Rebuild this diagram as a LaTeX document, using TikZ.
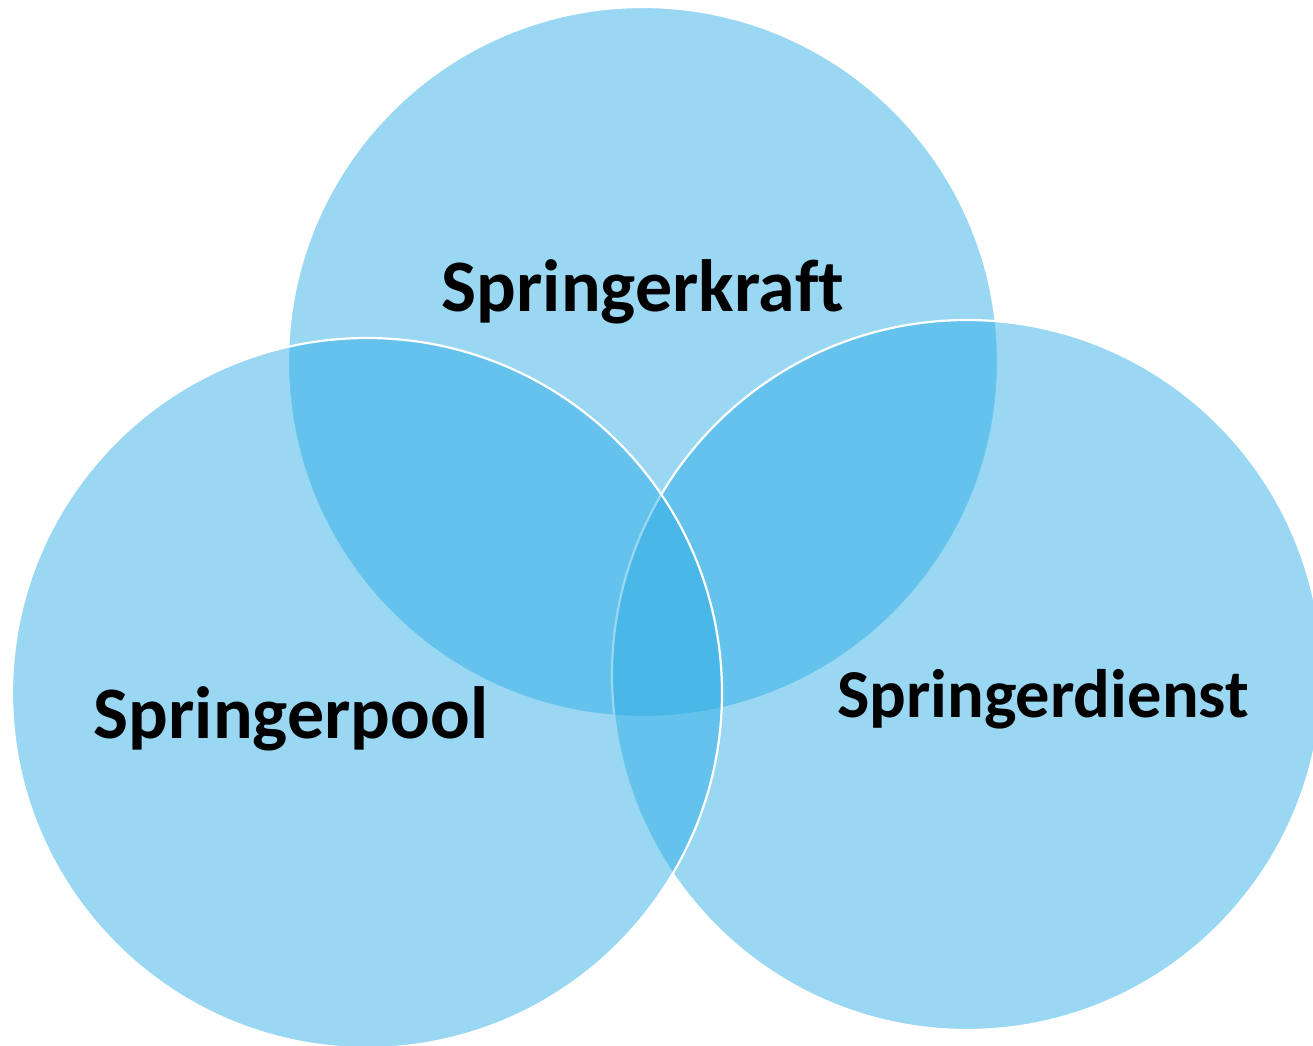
\documentclass[tikz,border=0pt]{standalone}
\usepackage{fontspec}
\setmainfont{Carlito}[Ligatures=NoCommon]
\definecolor{vennblue}{RGB}{41,171,228}
\tikzset{
  venn/.style={circle, minimum size=710pt, inner sep=0pt, fill=vennblue, fill opacity=0.47, draw=white, draw opacity=1, line width=2.2pt},
  label/.style={font=\bfseries, text=black, anchor=base, inner sep=0pt, text opacity=1}
}
\begin{document}
\begin{tikzpicture}[x=1pt,y=-1pt]
\useasboundingbox (0,0) rectangle (1313,1045);
\clip (0,0) rectangle (1313,1045);
\node[venn] (top) at (643,362) {};
\node[venn] (right) at (967,675) {};
\node[venn] (left) at (367,693) {};
\node[label, font=\fontsize{74}{80}\selectfont\bfseries] (tk) at (643,311) {Springerkraft};
\node[label, font=\fontsize{74}{80}\selectfont\bfseries] (tl) at (291,738) {Springerpool};
\node[label, font=\fontsize{68.5}{74}\selectfont\bfseries] (tr) at (1043,717) {Springerdienst};
\end{tikzpicture}
\end{document}
